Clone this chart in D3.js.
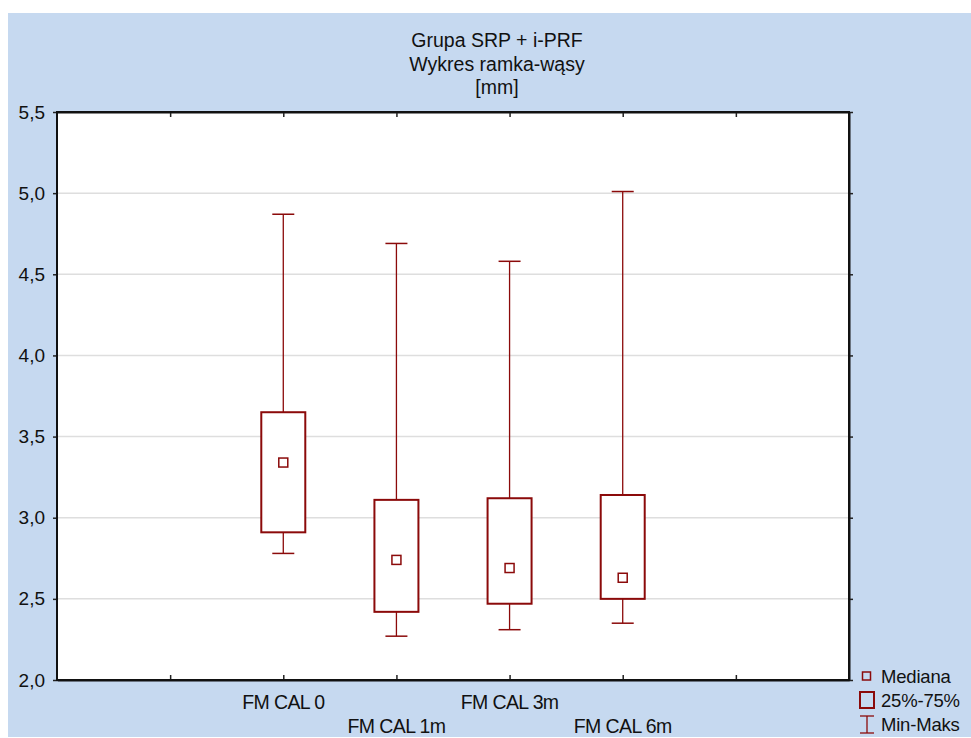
<!DOCTYPE html>
<html><head><meta charset="utf-8">
<script src="https://cdn.jsdelivr.net/npm/d3@7"></script>
<style>body{margin:0;background:#fff;}svg{display:block;font-family:"Liberation Sans",Arial,sans-serif;}</style>
</head><body>
<script>
const titleLines = ["Grupa SRP + i-PRF", "Wykres ramka-wąsy", "[mm]"];
const categories = ["FM CAL 0", "FM CAL 1m", "FM CAL 3m", "FM CAL 6m"];
const catPositions = [2, 3, 4, 5];
const minVals = [2.78, 2.27, 2.31, 2.35];
const q1Vals = [2.91, 2.42, 2.47, 2.50];
const medianVals = [3.34, 2.74, 2.69, 2.63];
const q3Vals = [3.65, 3.11, 3.12, 3.14];
const maxVals = [4.87, 4.69, 4.58, 5.01];
const yTicks = [2.0, 2.5, 3.0, 3.5, 4.0, 4.5, 5.0, 5.5];
const xTicks = [1, 2, 3, 4, 5, 6];
const legendLabels = ["Mediana", "25%-75%", "Min-Maks"];

const W = 971, H = 738;
const col = "#8B0A0A";
const svg = d3.select("body").append("svg").attr("width", W).attr("height", H);
svg.append("rect").attr("x", 8).attr("y", 13).attr("width", W - 8).attr("height", H - 14).attr("fill", "#C6D9F0");

const L = 57, R = 849, T = 112, B = 680;
const x = d3.scaleLinear().domain([0, 7]).range([L, R]);
const y = d3.scaleLinear().domain([2.0, 5.5]).range([B, T]);

svg.append("rect").attr("x", L).attr("y", T).attr("width", R - L).attr("height", B - T).attr("fill", "#fff");

// grid
svg.append("g").selectAll("line").data(yTicks.slice(1, -1)).join("line")
  .attr("x1", L).attr("x2", R).attr("y1", d => y(d)).attr("y2", d => y(d))
  .attr("stroke", "#dedede").attr("stroke-width", 1.5);

// title
svg.append("g").selectAll("text").data(titleLines).join("text")
  .attr("x", 497).attr("y", (d, i) => 47 + i * 23.6).attr("text-anchor", "middle")
  .attr("font-size", 19.5).attr("fill", "#111").text(d => d);

// axes
const fmt = d => d3.format(".1f")(d).replace(".", ",");
const yAxis = svg.append("g").attr("transform", `translate(${L},0)`)
  .call(d3.axisLeft(y).tickValues(yTicks).tickFormat(fmt).tickSize(4).tickPadding(8));
yAxis.selectAll("text").attr("font-size", 19).attr("fill", "#111").attr("font-family", "Liberation Sans, Arial, sans-serif");
const yAxisR = svg.append("g").attr("transform", `translate(${R},0)`)
  .call(d3.axisLeft(y).tickValues(yTicks).tickFormat("").tickSize(-4).tickSizeOuter(0));
yAxisR.selectAll("text").remove();
const xAxisB = svg.append("g").attr("transform", `translate(0,${B})`)
  .call(d3.axisBottom(x).tickValues(xTicks).tickFormat("").tickSize(-5).tickSizeOuter(0));
const xAxisT = svg.append("g").attr("transform", `translate(0,${T})`)
  .call(d3.axisTop(x).tickValues(xTicks).tickFormat("").tickSize(-5).tickSizeOuter(0));
[yAxis, yAxisR, xAxisB, xAxisT].forEach(g => {
  g.selectAll(".domain").attr("stroke", "#111").attr("stroke-width", 2);
  g.selectAll(".tick line").attr("stroke", "#222").attr("stroke-width", 1.5);
});
yAxis.select(".domain").remove();
svg.append("rect").attr("x", L).attr("y", T).attr("width", R - L).attr("height", B - T)
  .attr("fill", "none").attr("stroke", "#111").attr("stroke-width", 2);

// x labels
svg.append("g").selectAll("text").data(categories).join("text")
  .attr("x", (d, i) => x(catPositions[i])).attr("y", (d, i) => i % 2 === 0 ? 709 : 733)
  .attr("text-anchor", "middle").attr("font-size", 19.5).attr("letter-spacing", -0.6).attr("fill", "#111").text(d => d);

// boxes
const data = categories.map((c, i) => ({c, p: catPositions[i], mn: minVals[i], q1: q1Vals[i], md: medianVals[i], q3: q3Vals[i], mx: maxVals[i]}));
const g = svg.append("g");
data.forEach(d => {
  const cx = x(d.p);
  g.append("line").attr("x1", cx).attr("x2", cx).attr("y1", y(d.mx)).attr("y2", y(d.q3)).attr("stroke", col).attr("stroke-width", 1.3);
  g.append("line").attr("x1", cx).attr("x2", cx).attr("y1", y(d.q1)).attr("y2", y(d.mn)).attr("stroke", col).attr("stroke-width", 1.3);
  g.append("line").attr("x1", cx - 11).attr("x2", cx + 11).attr("y1", y(d.mx)).attr("y2", y(d.mx)).attr("stroke", col).attr("stroke-width", 1.5);
  g.append("line").attr("x1", cx - 11).attr("x2", cx + 11).attr("y1", y(d.mn)).attr("y2", y(d.mn)).attr("stroke", col).attr("stroke-width", 1.5);
  g.append("rect").attr("x", cx - 22).attr("y", y(d.q3)).attr("width", 44).attr("height", y(d.q1) - y(d.q3))
    .attr("fill", "#fff").attr("stroke", col).attr("stroke-width", 2);
  g.append("rect").attr("x", cx - 4.5).attr("y", y(d.md) - 4.5).attr("width", 9).attr("height", 9)
    .attr("fill", "none").attr("stroke", col).attr("stroke-width", 1.5);
});

// legend
const lg = svg.append("g");
lg.append("rect").attr("x", 862.5).attr("y", 672).attr("width", 8).attr("height", 8).attr("fill", "none").attr("stroke", col).attr("stroke-width", 1.5);
lg.append("rect").attr("x", 860).attr("y", 692).attr("width", 14).attr("height", 16).attr("fill", "none").attr("stroke", col).attr("stroke-width", 2);
lg.append("line").attr("x1", 867).attr("x2", 867).attr("y1", 716).attr("y2", 733).attr("stroke", col).attr("stroke-width", 1.3);
lg.append("line").attr("x1", 860).attr("x2", 874).attr("y1", 716).attr("y2", 716).attr("stroke", col).attr("stroke-width", 1.3);
lg.append("line").attr("x1", 860).attr("x2", 874).attr("y1", 733).attr("y2", 733).attr("stroke", col).attr("stroke-width", 1.3);
lg.selectAll("text").data(legendLabels).join("text")
  .attr("x", 881).attr("y", (d, i) => 683 + i * 24).attr("font-size", 18.5).attr("letter-spacing", -0.2).attr("fill", "#111").text(d => d);
</script>
</body></html>
